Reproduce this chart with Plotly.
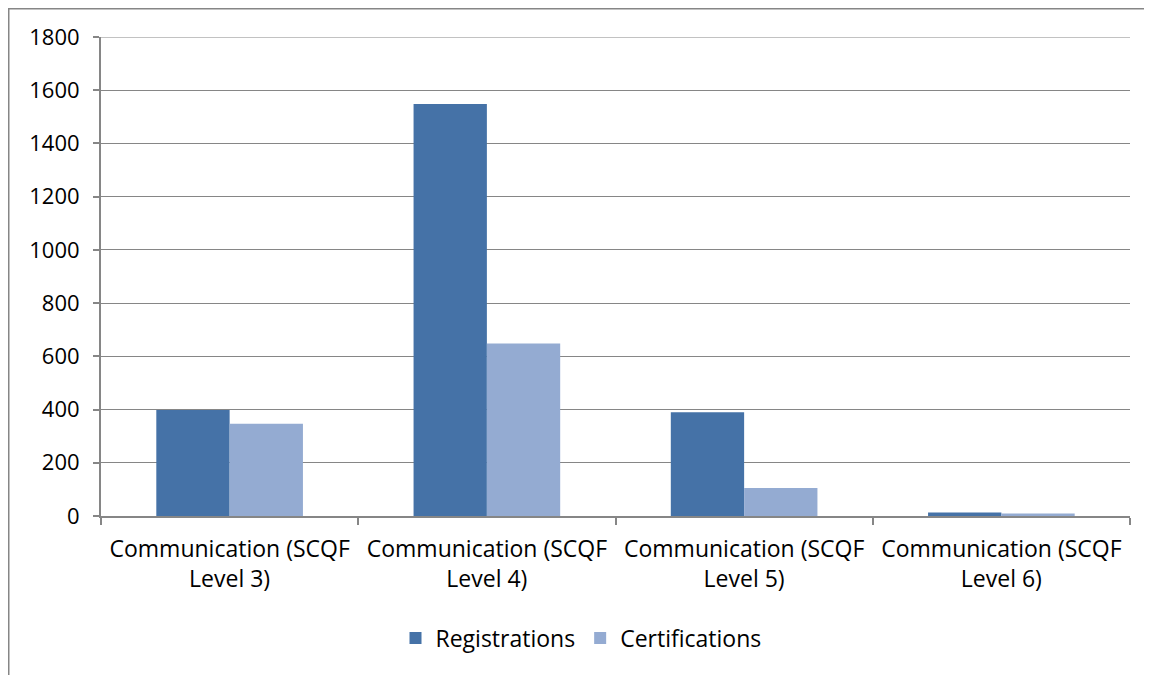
import plotly.graph_objects as go

categories = ["Communication (SCQF<br>Level 3)", "Communication (SCQF<br>Level 4)",
              "Communication (SCQF<br>Level 5)", "Communication (SCQF<br>Level 6)"]
registrations = [398, 1548, 390, 13]
certifications = [347, 648, 105, 9]
y_ticks = [0, 200, 400, 600, 800, 1000, 1200, 1400, 1600, 1800]

# the page body has an 8px margin: work in page pixels and convert
OFF = 8
W, H = 1152 - OFF, 675 - OFF
PL, PR, PT, PB = 101, 1130, 37, 516  # plot area in page pixels
L, R, T, B = PL - OFF, (1152 - PR), PT - OFF, (675 - PB)
pw, ph = W - L - R, H - T - B

def px(x):
    return (x - OFF - L) / pw

def py(y):
    return (H - B - (y - OFF)) / ph

fig = go.Figure()
fig.add_trace(go.Bar(name="Registrations", x=categories, y=registrations,
                     marker=dict(color="#4572A7", line=dict(width=0))))
fig.add_trace(go.Bar(name="Certifications", x=categories, y=certifications,
                     marker=dict(color="#94ABD2", line=dict(width=0))))

font = "Open Sans, sans-serif"
grid = "#868686"
fig.update_layout(
    width=W, height=H,
    margin=dict(l=L, r=R, t=T, b=B, pad=0),
    paper_bgcolor="white", plot_bgcolor="white",
    barmode="group", bargap=0.43, bargroupgap=0,
    font=dict(family=font, size=23, color="black"),
    showlegend=True,
    legend=dict(orientation="h", x=px(581), xanchor="center", y=py(638), yanchor="middle",
                font=dict(size=23), itemwidth=30, traceorder="normal"),
    xaxis=dict(showline=True, linecolor=grid, linewidth=2, ticks="outside",
               tickson="boundaries", ticklen=7, tickcolor=grid, tickwidth=2,
               showgrid=False, tickfont=dict(size=23), ticklabelstandoff=11),
    yaxis=dict(range=[0, 1800], tickvals=y_ticks, showline=True, linecolor=grid,
               linewidth=2, ticks="outside", ticklen=6, tickcolor=grid, tickwidth=2,
               showgrid=True, gridcolor=grid, gridwidth=1, zeroline=False,
               tickfont=dict(size=22), ticklabelstandoff=9),
    shapes=[
        dict(type="line", xref="paper", yref="y", x0=0, x1=1, y0=1800, y1=1800,
             line=dict(color=grid, width=1)),
        dict(type="line", xref="paper", yref="paper", x0=px(7.75), x1=px(1160), y0=py(8.75), y1=py(8.75),
             line=dict(color=grid, width=1.5)),
        dict(type="line", xref="paper", yref="paper", x0=px(8.75), x1=px(8.75), y0=py(8.75), y1=py(700),
             line=dict(color=grid, width=1.5)),
    ],
)
fig.write_html("out.html")
